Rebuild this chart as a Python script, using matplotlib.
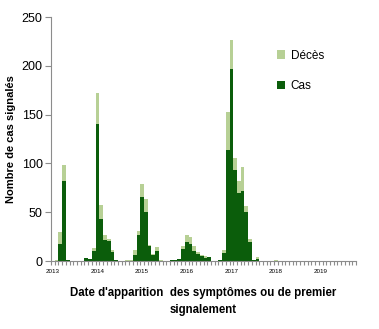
import matplotlib
matplotlib.use("Agg")
import matplotlib.pyplot as plt
import numpy as np

# Monthly data, Jan 2013 .. Oct 2019 (82 months)
years = ["2013", "2014", "2015", "2016", "2017", "2018", "2019"]
n_months = 82
cas_nonzero = {2: 17, 3: 82, 4: 1, 9: 3, 10: 2, 11: 10, 12: 140, 13: 43, 14: 22, 15: 21,
               16: 9, 17: 1, 22: 6, 23: 27, 24: 66, 25: 50, 26: 15, 27: 6, 28: 10,
               32: 1, 33: 1, 34: 2, 35: 12, 36: 19, 37: 17, 38: 10, 39: 7, 40: 5, 41: 3,
               42: 4, 45: 1, 46: 8, 47: 114, 48: 197, 49: 93, 50: 70, 51: 72, 52: 50,
               53: 19, 54: 1, 55: 2}
deces_nonzero = {1: 1, 2: 13, 3: 16, 11: 3, 12: 32, 13: 14, 14: 5, 15: 2, 16: 2,
                 20: 1, 21: 1, 22: 5, 23: 4, 24: 13, 25: 14, 26: 1, 27: 1, 28: 4, 29: 1,
                 35: 3, 36: 8, 37: 8, 38: 5, 39: 2, 40: 1, 41: 2, 46: 3, 47: 39, 48: 29,
                 49: 13, 50: 12, 51: 24, 52: 6, 53: 4, 55: 2, 60: 1}
cas = [cas_nonzero.get(i, 0) for i in range(n_months)]
deces = [deces_nonzero.get(i, 0) for i in range(n_months)]

dark = "#0b5d0b"
light = "#b7d095"
axis_col = "#8c8c8c"

fig = plt.figure(figsize=(3.79, 3.29), dpi=100)
ax = fig.add_axes([51/379, 1-261/329, 305/379, 244/329])
x = np.arange(n_months)
ax.bar(x, cas, width=1.0, color=dark, label="Cas", linewidth=0)
ax.bar(x, deces, width=1.0, bottom=cas, color=light, label="Décès", linewidth=0)

ax.set_xlim(-0.5, n_months - 0.5)
ax.set_ylim(0, 250)
ax.set_yticks(range(0, 251, 50))
ax.set_xticks(np.arange(0, 12*len(years), 12))
ax.set_xticklabels(years, fontsize=4.5, family="Liberation Sans")
ax.set_xticks(np.arange(-0.5, n_months, 1), minor=True)
ax.tick_params(axis="x", which="major", length=0, pad=6)
ax.tick_params(axis="x", which="minor", length=3, color=axis_col, width=0.8)
ax.tick_params(axis="y", length=4, color=axis_col, width=0.8, labelsize=9, pad=2)
for lab in ax.get_yticklabels():
    lab.set_family("Liberation Sans")
for s in ["top", "right"]:
    ax.spines[s].set_visible(False)
for s in ["left", "bottom"]:
    ax.spines[s].set_color(axis_col)
    ax.spines[s].set_linewidth(0.8)

ax.set_ylabel("Nombre de cas signalés", fontsize=8, fontweight="bold", family="Liberation Sans", labelpad=4)
ax.set_xlabel("Date d'apparition  des symptômes ou de premier\nsignalement", fontsize=8.3,
              fontweight="bold", family="Liberation Sans", labelpad=9, linespacing=1.55)

h, l = ax.get_legend_handles_labels()
ax.legend(h[::-1], l[::-1], loc="upper left", bbox_to_anchor=(0.705, 0.91), frameon=False,
          handlelength=0.7, handleheight=0.7, labelspacing=1.6, handletextpad=0.5,
          prop={"family": "Liberation Sans", "size": 8.5})

fig.savefig("out.png", dpi=100)
